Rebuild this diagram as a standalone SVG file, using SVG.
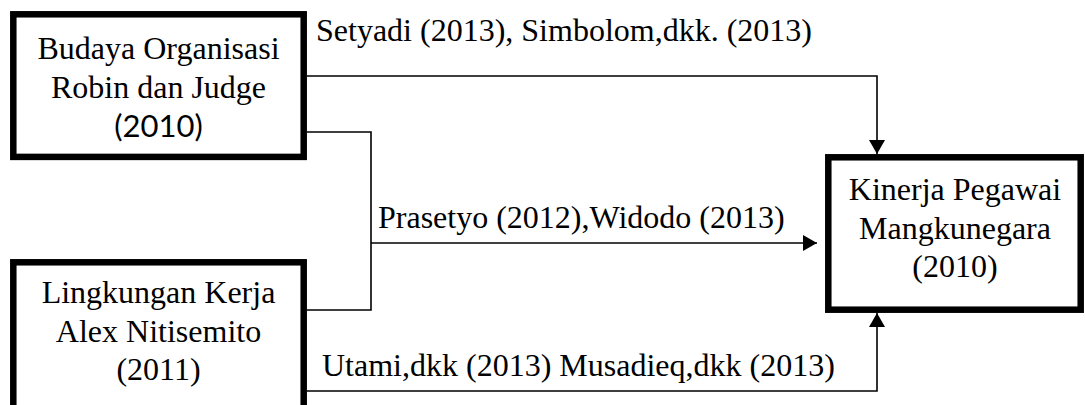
<svg xmlns="http://www.w3.org/2000/svg" width="1085" height="405" viewBox="0 0 1085 405">
<style>
.box{fill:#fff;stroke:#000;stroke-width:6.5}
.t{font-family:"Liberation Serif","Times New Roman",serif;font-size:32px;fill:#000;text-anchor:middle}
.s{font-family:Lato,"Liberation Sans",sans-serif;font-size:31px;fill:#000;text-anchor:middle}
.lbl{font-family:"Liberation Serif","Times New Roman",serif;font-size:32px;fill:#000}
.c{fill:none;stroke:#000;stroke-width:1.6}
</style>
<defs>
<marker id="ah" markerUnits="userSpaceOnUse" markerWidth="14" markerHeight="16" viewBox="0 0 14 16" refX="14" refY="8" orient="auto">
<path d="M0,0 L14,8 L0,16 Z" fill="#000"/>
</marker>
</defs>
<g id="connectors">
<path class="c" d="M307,76 H877 V154" marker-end="url(#ah)"/>
<path class="c" d="M307,132 H371 V310 H307"/>
<path class="c" d="M371,243 H817" marker-end="url(#ah)"/>
<path class="c" d="M307,391 H877 V313" marker-end="url(#ah)"/>
</g>
<g id="label1"><text class="lbl" x="316" y="41">Setyadi (2013), Simbolom,dkk. (2013)</text></g>
<g id="label2"><text class="lbl" x="378" y="228">Prasetyo (2012),Widodo (2013)</text></g>
<g id="label3"><text class="lbl" x="322" y="376">Utami,dkk (2013) Musadieq,dkk (2013)</text></g>
<g id="budaya">
<rect class="box" x="13.3" y="14.3" width="290.4" height="142.6"/>
<text class="t" x="158.5" y="59">Budaya Organisasi</text>
<text class="t" x="158.5" y="98">Robin dan Judge</text>
<text class="s" x="158.5" y="137">(2010)</text>
</g>
<g id="lingkungan">
<rect class="box" x="13.3" y="262.3" width="290.4" height="160"/>
<text class="t" x="158.5" y="303">Lingkungan Kerja</text>
<text class="t" x="158.5" y="342">Alex Nitisemito</text>
<text class="t" x="158.5" y="380">(2011)</text>
</g>
<g id="kinerja">
<rect class="box" x="828.3" y="157.3" width="252.4" height="152.4"/>
<text class="t" x="955" y="200">Kinerja Pegawai</text>
<text class="t" x="955" y="239">Mangkunegara</text>
<text class="t" x="955" y="277">(2010)</text>
</g>
</svg>
